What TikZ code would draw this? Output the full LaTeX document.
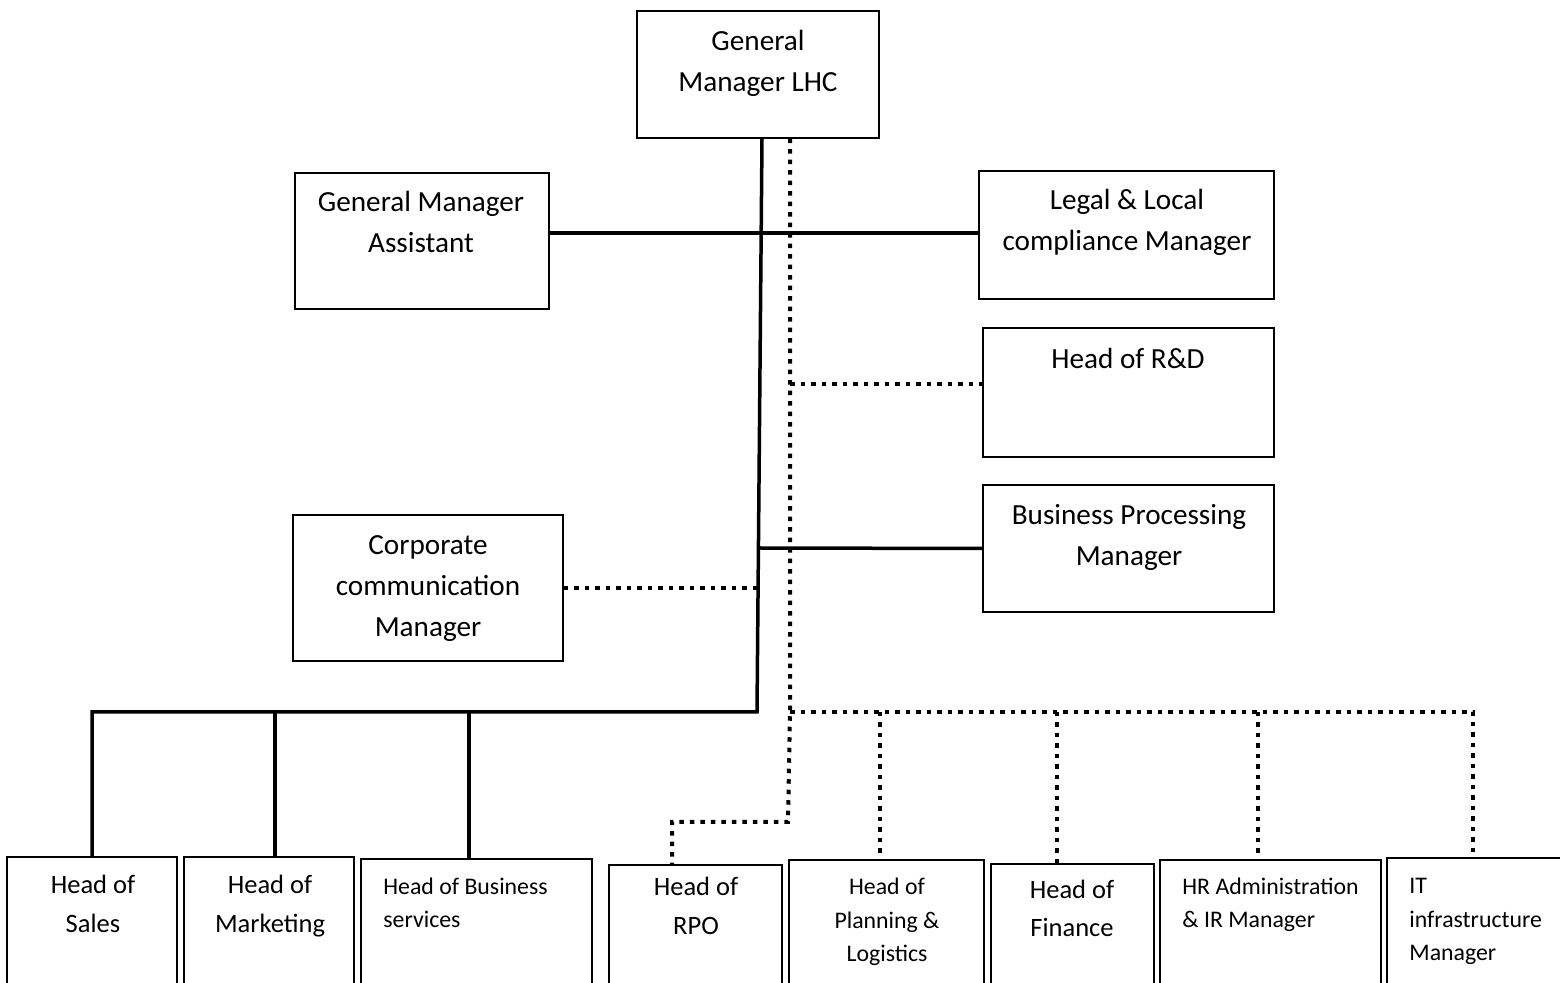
\documentclass[tikz,border=0pt]{standalone}
\usepackage{fontspec}
\setmainfont{Carlito}
\usetikzlibrary{fit}
\begin{document}
\begin{tikzpicture}[x=0.5pt,y=-0.5pt,
  box/.style={draw, line width=0.75pt, inner sep=0pt, rectangle},
  solidlink/.style={line width=1.75pt, line join=miter},
  dotlink/.style={line width=2pt, dash pattern=on 2.25pt off 3pt},
  tbig/.style={font=\fontsize{14.6}{20.5}\selectfont, inner sep=0pt, align=center},
  tmid/.style={font=\fontsize{13.25}{19.5}\selectfont, inner sep=0pt, align=center},
  tsmall/.style={font=\fontsize{11.9}{16.75}\selectfont, inner sep=0pt, align=left},
  tsmallc/.style={tsmall, align=center},
]
\useasboundingbox (0,0) rectangle (1560,983);

% ---- upper boxes ----
\node[box, fit={(637,11)(879,138)}]   (gm) {};
\node[box, fit={(295,173)(549,309)}]  (ga) {};
\node[box, fit={(979,171)(1274,299)}] (lg) {};
\node[box, fit={(983,328)(1274,457)}] (rd) {};
\node[box, fit={(983,485)(1274,612)}] (bp) {};
\node[box, fit={(293,515)(563,661)}]  (cc) {};

% texts are placed by the baseline of their last line
\node[tbig, anchor=base] (gmt) at (758,92)   {General\\Manager LHC};
\node[tbig, anchor=base] (gat) at (421,253)  {General Manager\\Assistant};
\node[tbig, anchor=base] (lgt) at (1127,251) {Legal \& Local\\compliance Manager};
\node[tbig, anchor=base] (rdt) at (1128,369) {Head of R\&D};
\node[tbig, anchor=base] (bpt) at (1129,566) {Business Processing\\Manager};
\node[tbig, anchor=base] (cct) at (428,637)  {Corporate\\communication\\Manager};

% ---- lower row ----
\node[box, fit={(7,857)(177,1000)}]     (sa) {};
\node[box, fit={(184,857)(354,1000)}]   (mk) {};
\node[box, fit={(361,859)(592,1000)}]   (bs) {};
\node[box, fit={(609,865)(782,1000)}]   (rpo) {};
\node[box, fit={(789,860)(984,1000)}]   (pl) {};
\node[box, fit={(991,864)(1154,1000)}]  (fi) {};
\node[box, fit={(1160,860)(1381,1000)}] (hr) {};
\node[box, fit={(1387,858)(1575,1000)}] (it) {};

\node[tmid, anchor=base] (sat)  at (93,933)   {Head of\\Sales};
\node[tmid, anchor=base] (mkt)  at (270,933)  {Head of\\Marketing};
\node[tsmall, anchor=base west] (bst) at (383,928) {Head of Business\\services};
\node[tmid, anchor=base] (rpot) at (696,935)  {Head of\\RPO};
\node[tsmallc, anchor=base] (plt) at (887,962) {Head of\\Planning \&\\Logistics};
\node[tmid, anchor=base] (fit) at (1072,937)  {Head of\\Finance};
\node[tsmall, anchor=base west] (hrt) at (1182,928) {HR Administration\\\& IR Manager};
\node[tsmall, anchor=base west] (itt) at (1409,961) {IT\\infrastructure\\Manager};

% ---- junction points ----
\coordinate (tb)   at (757,712);
\coordinate (bpj)  at (759,548);
\coordinate (ccj)  at (758,588);
\coordinate (mkj)  at (275,712);
\coordinate (bsj)  at (469,712);
\coordinate (lgj)  at (549,233);
\coordinate (dj)   at (790,712);
\coordinate (dk)   at (788,822);
\coordinate (rdj)  at (790,384);
\coordinate (rpoj) at (672,822);
\coordinate (plj)  at (880,712);
\coordinate (fij)  at (1057,712);
\coordinate (hrj)  at (1258,712);
\coordinate (itj)  at (1473,712);

% ---- solid reporting lines ----
\draw[solidlink] ([xshift=2pt]gm.south) -- (tb) -- (tb -| sa.north) -- (sa.north);
\draw[solidlink] (mkj) -- (mkj |- mk.north);
\draw[solidlink] (bsj) -- (bsj |- bs.north);
\draw[solidlink] (lgj) -- (lgj -| lg.west);
\draw[solidlink] (bpj) -- (bp.west);

% ---- dotted reporting lines ----
\draw[dotlink] ([xshift=16pt]gm.south) -- (dj) -- (dk) -- (rpoj) -- (rpoj |- rpo.north);
\draw[dotlink] (cc.east) -- (ccj);
\draw[dotlink] (rdj) -- (rdj -| rd.west);
\draw[dotlink] (dj) -- (itj) -- (itj |- it.north);
\draw[dotlink] (plj) -- (plj |- pl.north);
\draw[dotlink] (fij) -- (fij |- fi.north);
\draw[dotlink] (hrj) -- (hrj |- hr.north);
\end{tikzpicture}
\end{document}
